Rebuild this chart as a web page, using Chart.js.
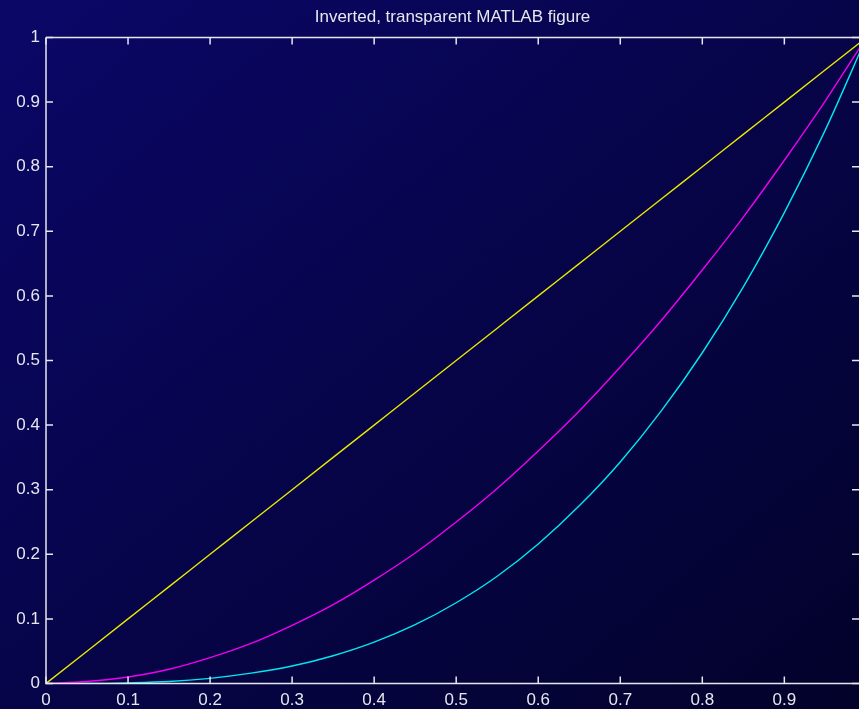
<!DOCTYPE html>
<html lang="en">
<head>
    <meta charset="UTF-8">
    <title>Inverted, transparent MATLAB figure</title>
    <script src="https://cdn.jsdelivr.net/npm/chart.js"></script>
    <style>
        html, body {
            margin: 0;
            padding: 0;
            width: 859px;
            height: 709px;
            overflow: hidden;
            background: linear-gradient(to bottom right, #0a0768, #03022a);
        }
        #wrap {
            width: 859px;
            height: 709px;
        }
    </style>
</head>
<body>
    <div id="wrap"><canvas id="myChart"></canvas></div>

    <script>
        // values
        const xValues = [0, 0.05, 0.1, 0.15, 0.2, 0.25, 0.3, 0.35, 0.4, 0.45, 0.5,
                         0.55, 0.6, 0.65, 0.7, 0.75, 0.8, 0.85, 0.9, 0.95, 1];
        const yellowLine = [0, 0.05, 0.1, 0.15, 0.2, 0.25, 0.3, 0.35, 0.4, 0.45, 0.5,
                            0.55, 0.6, 0.65, 0.7, 0.75, 0.8, 0.85, 0.9, 0.95, 1];
        const magentaLine = [0, 0.003, 0.01, 0.022, 0.04, 0.062, 0.09, 0.122, 0.16, 0.202, 0.25,
                             0.302, 0.36, 0.422, 0.49, 0.562, 0.64, 0.722, 0.81, 0.902, 1];
        const cyanLine = [0, 0.0001, 0.001, 0.003, 0.008, 0.016, 0.027, 0.043, 0.064, 0.091, 0.125,
                          0.166, 0.216, 0.275, 0.343, 0.422, 0.512, 0.614, 0.729, 0.857, 1];
        const xTicks = [0, 0.1, 0.2, 0.3, 0.4, 0.5, 0.6, 0.7, 0.8, 0.9];
        const yTicks = [0, 0.1, 0.2, 0.3, 0.4, 0.5, 0.6, 0.7, 0.8, 0.9, 1];
        const xMax = 0.991;

        const fg = '#e6e6ee';
        const fontFamily = '"Liberation Sans", Arial, Helvetica, sans-serif';

        const toPoints = ys => xValues.map((x, i) => ({ x: x, y: ys[i] }));
        const fmt = v => String(+Number(v).toFixed(1));

        // box around the axes, inward ticks on all sides, title over the plot
        const matlabBox = {
            id: 'matlabBox',
            afterDraw(chart) {
                const ctx = chart.ctx;
                const a = chart.chartArea;
                const xs = chart.scales.x, ys = chart.scales.y;
                ctx.save();
                ctx.strokeStyle = fg;
                ctx.lineWidth = 1.5;
                ctx.beginPath();
                xTicks.forEach(v => {
                    const px = xs.getPixelForValue(v);
                    ctx.moveTo(px, a.bottom); ctx.lineTo(px, a.bottom - 7);
                    ctx.moveTo(px, a.top); ctx.lineTo(px, a.top + 7);
                });
                yTicks.forEach(v => {
                    const py = ys.getPixelForValue(v);
                    ctx.moveTo(a.left, py); ctx.lineTo(a.left + 7, py);
                    ctx.moveTo(a.right, py); ctx.lineTo(a.right - 7, py);
                });
                ctx.stroke();
                ctx.beginPath();
                ctx.moveTo(a.left, a.top);
                ctx.lineTo(a.right + 2, a.top);
                ctx.moveTo(a.left, a.top);
                ctx.lineTo(a.left, a.bottom);
                ctx.lineTo(a.right + 2, a.bottom);
                ctx.stroke();

                ctx.fillStyle = fg;
                ctx.font = '17px ' + fontFamily;
                ctx.textAlign = 'center';
                ctx.textBaseline = 'alphabetic';
                ctx.fillText('Inverted, transparent MATLAB figure', (a.left + a.right) / 2, 22);
                ctx.restore();
            }
        };

        const ds = (data, color) => ({
            data: toPoints(data),
            borderColor: color,
            borderWidth: 1.4,
            pointRadius: 0,
            fill: false,
            cubicInterpolationMode: 'monotone'
        });

        new Chart(document.getElementById('myChart'), {
            type: 'line',
            data: {
                datasets: [
                    ds(yellowLine, '#e8e800'),
                    ds(magentaLine, '#f000f0'),
                    ds(cyanLine, '#00e8f0')
                ]
            },
            options: {
                responsive: true,
                maintainAspectRatio: false,
                animation: false,
                layout: { padding: { top: 37.5, right: 0, left: 0, bottom: 0 } },
                plugins: {
                    legend: { display: false },
                    tooltip: { enabled: false },
                    title: { display: false }
                },
                scales: {
                    x: {
                        type: 'linear',
                        min: 0,
                        max: xMax,
                        afterBuildTicks: s => { s.ticks = xTicks.map(v => ({ value: v })); },
                        afterFit: s => { s.height = 25.5; },
                        grid: { display: false, drawTicks: false },
                        border: { display: false },
                        ticks: {
                            color: fg,
                            font: { family: fontFamily, size: 17 },
                            padding: 7,
                            maxRotation: 0,
                            autoSkip: false,
                            callback: fmt
                        }
                    },
                    y: {
                        type: 'linear',
                        min: 0,
                        max: 1,
                        afterBuildTicks: s => { s.ticks = yTicks.map(v => ({ value: v })); },
                        afterFit: s => { s.width = 46; },
                        grid: { display: false, drawTicks: false },
                        border: { display: false },
                        ticks: {
                            color: fg,
                            font: { family: fontFamily, size: 17 },
                            padding: 6,
                            autoSkip: false,
                            callback: fmt
                        }
                    }
                }
            },
            plugins: [matlabBox]
        });
    </script>
</body>
</html>
